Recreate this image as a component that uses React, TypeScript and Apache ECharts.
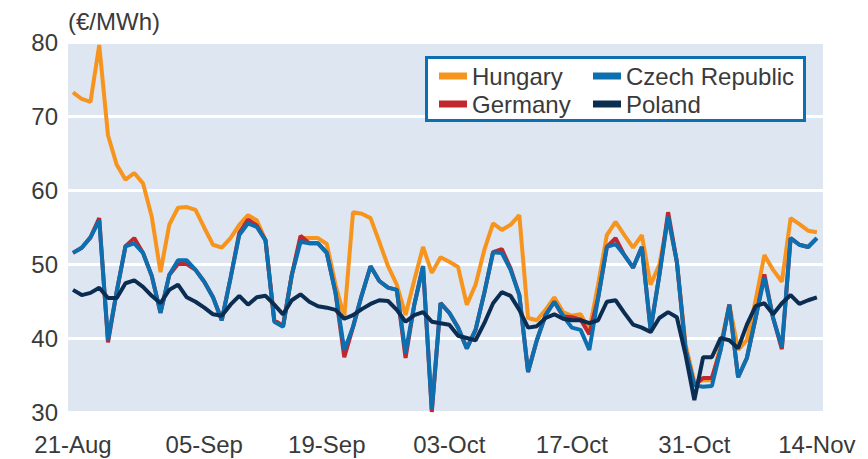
import React, { useEffect, useRef } from "react";
import * as echarts from "echarts";

const tickIndex = [0, 15, 29, 43, 57, 71, 85];
const tickLabels = ["21-Aug", "05-Sep", "19-Sep", "03-Oct", "17-Oct", "31-Oct", "14-Nov"];

const hungary = [
  73.2, 72.3, 71.9, 79.6, 67.4, 63.4, 61.4, 62.3, 60.9, 56.4,
  48.9, 55.3, 57.6, 57.7, 57.3, 54.9, 52.6, 52.2, 53.5, 55.3,
  56.6, 55.9, 53.2, 42.4, 41.6, 48.5, 53.5, 53.5, 53.5, 52.7,
  47.2, 42.8, 57.0, 56.8, 56.2, 53.0, 49.7, 47.2, 43.1, 47.8,
  52.3, 48.8, 50.9, 50.3, 49.6, 44.5, 47.2, 51.9, 55.5, 54.6,
  55.3, 56.6, 42.7, 42.4, 43.8, 45.5, 43.5, 43.0, 43.2, 41.1,
  47.2, 53.9, 55.7, 53.9, 52.2, 53.9, 47.2, 49.9, 56.2, 50.3,
  39.1, 34.1, 34.3, 34.3, 39.1, 44.5, 38.4, 39.7, 45.1, 51.2,
  49.2, 47.6, 56.2, 55.4, 54.5, 54.3,
];

const germany = [
  51.5, 52.2, 53.6, 56.2, 39.4, 46.3, 52.4, 53.5, 51.5, 48.4,
  43.4, 48.5, 50.0, 50.0, 49.2, 47.6, 45.5, 42.4, 48.1, 54.2,
  56.0, 55.2, 53.2, 42.4, 41.6, 48.5, 53.8, 52.8, 52.8, 51.5,
  46.1, 37.4, 41.5, 45.8, 49.7, 47.7, 46.8, 46.5, 37.3, 44.5,
  49.7, 30.0, 44.7, 43.4, 41.4, 38.6, 41.1, 46.1, 51.6, 52.0,
  49.4, 45.8, 35.4, 39.7, 43.1, 44.9, 42.9, 42.8, 42.5, 40.5,
  45.4, 52.3, 53.5, 51.2, 49.5, 52.3, 41.1, 48.5, 57.0, 50.3,
  38.4, 33.6, 34.6, 34.6, 38.4, 44.5, 34.7, 37.3, 42.7, 48.6,
  42.7, 38.5, 53.5, 52.6, 52.3, 53.5,
];

const czech = [
  51.5, 52.2, 53.6, 55.9, 39.7, 46.3, 52.4, 52.8, 51.5, 48.4,
  43.4, 48.5, 50.5, 50.5, 49.2, 47.6, 45.5, 42.4, 48.1, 53.9,
  55.5, 55.0, 53.2, 42.2, 41.5, 48.5, 53.0, 52.8, 52.8, 51.5,
  46.1, 38.4, 41.5, 45.8, 49.7, 47.7, 46.8, 46.5, 38.0, 44.5,
  49.7, 30.3, 44.7, 43.4, 41.4, 38.6, 41.1, 46.1, 51.6, 51.5,
  49.2, 45.8, 35.4, 39.7, 43.1, 44.9, 43.0, 41.4, 41.1, 38.4,
  45.4, 52.3, 52.7, 51.2, 49.5, 52.3, 41.1, 48.5, 56.4, 50.3,
  38.4, 33.6, 33.4, 33.5, 38.4, 44.5, 34.7, 37.3, 42.7, 48.2,
  42.7, 38.8, 53.5, 52.6, 52.3, 53.5,
];

const poland = [
  46.5, 45.8, 46.1, 46.8, 45.4, 45.4, 47.4, 47.8, 46.9, 45.7,
  44.7, 46.5, 47.2, 45.5, 44.9, 44.1, 43.2, 43.0, 44.5, 45.7,
  44.5, 45.5, 45.7, 44.5, 43.2, 45.1, 45.9, 44.9, 44.3, 44.1,
  43.8, 42.6, 43.1, 43.9, 44.6, 45.1, 45.0, 43.8, 42.2, 43.1,
  43.5, 42.2, 42.0, 41.8, 40.3, 40.0, 39.7, 42.0, 44.7, 46.2,
  45.7, 43.8, 41.4, 41.6, 42.7, 43.2, 42.6, 42.4, 42.4, 42.0,
  42.4, 44.9, 45.1, 43.4, 41.8, 41.4, 40.8, 42.7, 43.5, 42.8,
  37.7, 31.6, 37.4, 37.4, 40.0, 39.7, 38.6, 41.8, 44.3, 44.7,
  43.2, 44.7, 45.8, 44.6, 45.1, 45.5,
];

const FONT = '"Liberation Sans", Arial, sans-serif';
const TXT = "#3a3a3a";

export default function App() {
  const ref = useRef<HTMLDivElement>(null);
  useEffect(() => {
    if (!ref.current) return;
    const chart = echarts.init(ref.current, null, { renderer: "svg" });
    const pairs = (arr: number[]) => arr.map((v, i) => [i, v]);
    const mk = (name: string, arr: number[], color: string, z: number) => ({
      name,
      type: "line",
      data: pairs(arr),
      showSymbol: false,
      symbol: "none",
      z,
      lineStyle: { width: 4, color },
      itemStyle: { color },
    });
    const legendBase = {
      orient: "vertical",
      icon: "rect",
      itemWidth: 28,
      itemHeight: 7,
      itemGap: 4,
      padding: 0,
      selectedMode: false,
      z: 10,
      textStyle: { fontSize: 24, color: TXT, fontFamily: FONT },
    };
    chart.setOption({
      animation: false,
      backgroundColor: "#ffffff",
      textStyle: { fontFamily: FONT },
      grid: {
        left: 68,
        right: 45,
        top: 42,
        bottom: 47,
        show: true,
        backgroundColor: "#dee6f2",
        borderWidth: 0,
      },
      xAxis: {
        type: "value",
        min: -0.57,
        max: 85.7,
        axisLine: { show: false },
        axisTick: { show: false },
        splitLine: { show: false },
        axisLabel: {
          customValues: tickIndex,
          formatter: (v: number) => {
            const k = tickIndex.indexOf(Math.round(v));
            return k >= 0 ? tickLabels[k] : "";
          },
          fontSize: 24,
          color: TXT,
          margin: 20,
          fontFamily: FONT,
        },
      },
      yAxis: {
        type: "value",
        min: 30,
        max: 80,
        interval: 10,
        axisLine: { show: false },
        axisTick: { show: false },
        splitLine: { lineStyle: { color: "#ffffff", width: 3 } },
        axisLabel: { fontSize: 24, color: TXT, margin: 10, fontFamily: FONT },
      },
      legend: [
        { ...legendBase, data: ["Hungary", "Germany"], left: 439, top: 64 },
        { ...legendBase, data: ["Czech Republic", "Poland"], left: 593, top: 64 },
      ],
      graphic: [
        {
          type: "rect",
          z: 5,
          shape: { x: 426.5, y: 57.5, width: 378, height: 63 },
          style: { fill: "#ffffff", stroke: "#0b6fb0", lineWidth: 3 },
        },
        {
          type: "text",
          z: 5,
          left: 68,
          top: 9,
          style: { text: "(€/MWh)", font: `24px ${FONT}`, fill: TXT },
        },
      ],
      series: [
        mk("Hungary", hungary, "#f7941d", 2),
        mk("Germany", germany, "#c1272d", 3),
        mk("Czech Republic", czech, "#0b6fb0", 4),
        mk("Poland", poland, "#0c2d52", 5),
      ],
    });
    return () => chart.dispose();
  }, []);
  return (
    <div
      ref={ref}
      style={{ position: "fixed", left: 0, top: 0, width: 868, height: 459 }}
    />
  );
}
